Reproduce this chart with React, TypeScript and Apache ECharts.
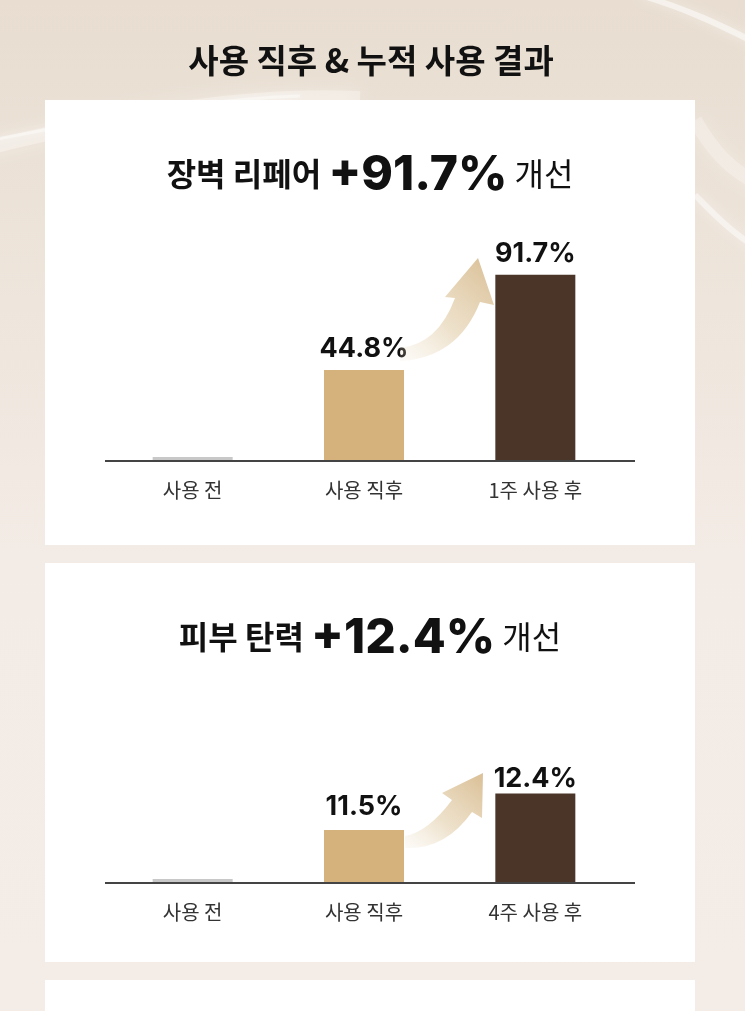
import React, { useEffect, useRef } from "react";
import * as echarts from "echarts";

// ---------- data ----------
const mainTitle = "사용 직후 & 누적 사용 결과";

const categories1 = ["사용 전", "사용 직후", "1주 사용 후"];
const values1 = [0, 44.8, 91.7];
const title1Lead = "장벽 리페어";
const title1Value = "+91.7%";

const categories2 = ["사용 전", "사용 직후", "4주 사용 후"];
const values2 = [0, 11.5, 12.4];
const title2Lead = "피부 탄력";
const title2Value = "+12.4%";

const titleTail = "개선";

// ---------- styles ----------
const barColors = ["#c8c8c8", "#d5b27c", "#4b3528"];
const KR = "'Noto Sans CJK KR', 'Noto Sans', sans-serif";
const NUM = "Inter, 'Noto Sans', sans-serif";

const Y1_MIN = 0;
const Y1_MAX = 100;
const Y2_MIN = 10.2; // truncated axis, as in the original graphic
const Y2_MAX = 13;

// decorative curved arrows (registered shapes)
echarts.graphic.registerShape(
  "arrowUp1",
  echarts.graphic.extendPath(
    "M 400 348 Q 438 344 455 298 L 445 297 L 478 258 L 494 305 L 480 302 Q 458 358 400 361 Z",
    {}
  )
);
echarts.graphic.registerShape(
  "arrowUp2",
  echarts.graphic.extendPath(
    "M 405 836 Q 428 832 452 800 L 442 793 L 483 773 L 482 818 L 472 812 Q 445 850 405 848 Z",
    {}
  )
);

function arrowFill() {
  return new echarts.graphic.LinearGradient(0, 1, 0.85, 0, [
    { offset: 0, color: "rgba(236,222,198,0.12)" },
    { offset: 0.45, color: "rgba(230,212,180,0.7)" },
    { offset: 1, color: "#dcc39c" },
  ]);
}

function titleRich(lead: string, value: string) {
  return {
    text: `{a|${lead} }{b|${value}}{c| ${titleTail}}`,
    rich: {
      a: { fontSize: 32, fontWeight: 700, fontFamily: KR, fill: "#111" },
      b: { fontSize: 48, fontWeight: 800, fontFamily: NUM, fill: "#111" },
      c: { fontSize: 32, fontWeight: 400, fontFamily: KR, fill: "#111" },
    },
    align: "center",
    verticalAlign: "middle",
  };
}

function barData(values: number[], yMin: number, distances: number[]) {
  return values.map((v, i) => ({
    value: Math.max(v, yMin),
    itemStyle: { color: barColors[i] },
    label: { show: i > 0, distance: distances[i] },
  }));
}

const labelStyle = {
  position: "top",
  fontSize: 27,
  fontWeight: 700,
  fontFamily: NUM,
  color: "#111",
  formatter: (p: any) => `${p.value}%`,
};

function glow(shape: any, alpha: number, width: number, blur: number) {
  return {
    type: "bezierCurve",
    z: -19,
    shape,
    style: {
      stroke: `rgba(255,255,255,${alpha})`,
      lineWidth: width,
      fill: null,
      shadowBlur: blur,
      shadowColor: "rgba(255,255,255,0.9)",
    },
  };
}

export default function App() {
  const ref = useRef<HTMLDivElement>(null);

  useEffect(() => {
    const el = ref.current!;
    const chart = echarts.init(el, null, { renderer: "svg", width: 745, height: 1011 });

    const option: any = {
      animation: false,
      backgroundColor: "transparent",
      graphic: [
        // page background
        {
          type: "rect",
          z: -20,
          shape: { x: 0, y: 0, width: 745, height: 1011 },
          style: {
            fill: new echarts.graphic.LinearGradient(0, 0, 0, 1, [
              { offset: 0, color: "#e8ddd0" },
              { offset: 0.3, color: "#eee5dc" },
              { offset: 0.55, color: "#f3ebe5" },
              { offset: 1, color: "#f4ece6" },
            ]),
          },
        },
        // soft silky highlights
        glow({ x1: -20, y1: 150, cpx1: 80, cpy1: 125, cpx2: 220, cpy2: 92, x2: 360, y2: 98 }, 0.3, 14, 18),
        glow({ x1: -20, y1: 142, cpx1: 60, cpy1: 128, cpx2: 180, cpy2: 100, x2: 300, y2: 96 }, 0.4, 3, 6),
        glow({ x1: 640, y1: -5, cpx1: 690, cpy1: 10, cpx2: 720, cpy2: 25, x2: 760, y2: 45 }, 0.5, 6, 12),
        glow({ x1: 695, y1: 195, cpx1: 712, cpy1: 212, cpx2: 730, cpy2: 232, x2: 760, y2: 250 }, 0.45, 6, 12),
        glow({ x1: 695, y1: 120, cpx1: 712, cpy1: 150, cpx2: 730, cpy2: 170, x2: 760, y2: 185 }, 0.25, 14, 18),
        // cards
        { type: "rect", z: -10, shape: { x: 45, y: 100, width: 650, height: 445 }, style: { fill: "#ffffff" } },
        { type: "rect", z: -10, shape: { x: 45, y: 563, width: 650, height: 399 }, style: { fill: "#ffffff" } },
        { type: "rect", z: -10, shape: { x: 45, y: 980, width: 650, height: 40 }, style: { fill: "#ffffff" } },
        // main title
        {
          type: "text",
          z: 10,
          x: 371,
          y: 59,
          style: {
            text: mainTitle,
            fontSize: 33,
            fontWeight: 700,
            fontFamily: KR,
            fill: "#111",
            align: "center",
            verticalAlign: "middle",
          },
        },
        // card titles
        { type: "text", z: 10, x: 370, y: 172, style: titleRich(title1Lead, title1Value) },
        { type: "text", z: 10, x: 370, y: 635, style: titleRich(title2Lead, title2Value) },
        // baselines
        {
          type: "line",
          z: 8,
          shape: { x1: 105, y1: 461, x2: 635, y2: 461 },
          style: { stroke: "#444", lineWidth: 2 },
        },
        {
          type: "line",
          z: 8,
          shape: { x1: 105, y1: 883, x2: 635, y2: 883 },
          style: { stroke: "#444", lineWidth: 2 },
        },
        // arrows
        { type: "arrowUp1", z: 5, x: 0, y: 0, style: { fill: arrowFill() } },
        { type: "arrowUp2", z: 5, x: 0, y: 0, style: { fill: arrowFill() } },
      ],
      grid: [
        { left: 107, width: 514, top: 258, height: 203 },
        { left: 107, width: 514, top: 769, height: 114 },
      ],
      xAxis: [0, 1].map((i) => ({
        type: "category",
        gridIndex: i,
        data: i === 0 ? categories1 : categories2,
        axisLine: { show: false },
        axisTick: { show: false },
        axisLabel: { fontSize: 20, color: "#333", fontFamily: KR, margin: 18 },
      })),
      yAxis: [
        { type: "value", gridIndex: 0, min: Y1_MIN, max: Y1_MAX, startValue: Y1_MIN, show: false, splitLine: { show: false } },
        { type: "value", gridIndex: 1, min: Y2_MIN, max: Y2_MAX, startValue: Y2_MIN, show: false, splitLine: { show: false } },
      ],
      series: [
        {
          type: "bar",
          xAxisIndex: 0,
          yAxisIndex: 0,
          barWidth: 80,
          barMinHeight: 4,
          label: labelStyle,
          data: barData(values1, Y1_MIN, [0, 9, 9]),
        },
        {
          type: "bar",
          xAxisIndex: 1,
          yAxisIndex: 1,
          barWidth: 80,
          barMinHeight: 4,
          label: labelStyle,
          data: barData(values2, Y2_MIN, [0, 11, 2]),
        },
      ],
    };

    chart.setOption(option);
    return () => chart.dispose();
  }, []);

  return (
    <div
      ref={ref}
      style={{ position: "fixed", left: 0, top: 0, width: 745, height: 1011 }}
    />
  );
}
